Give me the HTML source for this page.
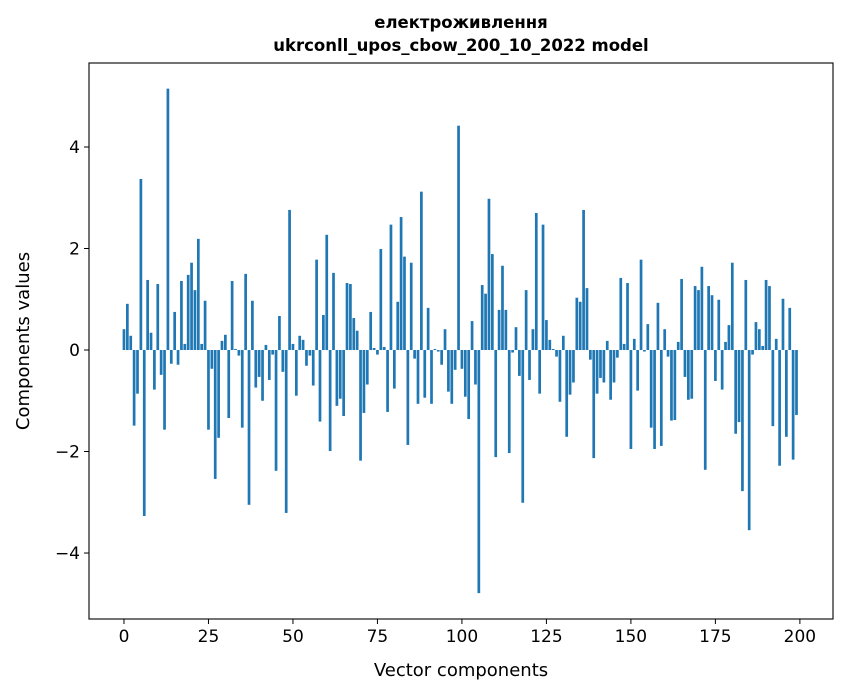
<!DOCTYPE html>
<html><head><meta charset="utf-8"><style>
body{margin:0;background:#fff;}
svg{display:block;font-family:"DejaVu Sans","Liberation Sans",sans-serif;}
</style></head><body>
<svg id="chart" width="847" height="696" viewBox="0 0 847 696">
<text x="461" y="28" text-anchor="middle" font-size="16.5" font-weight="bold">електроживлення</text>
<text x="461" y="51" text-anchor="middle" font-size="16.5" font-weight="bold">ukrconll_upos_cbow_200_10_2022 model</text>
<g id="bars"></g>
<rect x="89" y="63" width="744" height="556" fill="none" stroke="#000" stroke-width="1.1"/>
<g id="xticks"></g>
<g id="yticks"></g>
<text x="461" y="676" text-anchor="middle" font-size="18">Vector components</text>
<text transform="translate(29,341) rotate(-90)" text-anchor="middle" font-size="18">Components values</text>
</svg>
<script>
const values = [0.41,0.91,0.28,-1.49,-0.86,3.37,-3.27,1.38,0.34,-0.78,1.30,-0.49,-1.57,5.15,-0.27,0.75,-0.29,1.36,0.12,1.48,1.72,1.18,2.19,0.12,0.97,
-1.57,-0.37,-2.54,-1.73,0.18,0.30,-1.34,1.36,0.02,-0.11,-1.53,1.50,-3.05,0.97,-0.74,-0.53,-1.0,0.10,-0.59,-0.09,-2.38,0.67,-0.43,-3.21,2.76,
0.12,-0.90,0.28,0.20,-0.31,-0.11,-0.70,1.78,-1.41,0.69,2.27,-1.99,1.52,-1.10,-0.96,-1.30,1.32,1.30,0.63,0.38,-2.18,-1.24,-0.68,0.75,0.04,
-0.09,1.99,0.06,-1.22,2.47,-0.76,0.95,2.62,1.84,-1.87,1.72,-0.17,-1.06,3.12,-0.94,0.83,-1.06,0.02,-0.03,-0.29,0.41,-0.82,-1.06,-0.39,4.42,
-0.37,-0.92,-1.36,0.57,-0.68,-4.79,1.28,1.11,2.98,1.89,-2.11,0.79,1.66,0.79,-2.03,-0.05,0.45,-0.51,-3.01,1.18,-0.59,0.41,2.70,-0.86,2.47,
0.59,0.20,0.02,-0.13,-1.02,0.28,-1.71,-0.88,-0.64,1.03,0.95,2.76,1.22,-0.19,-2.13,-0.86,-0.55,-0.64,0.18,-0.98,-0.64,-0.15,1.42,0.12,1.32,
-1.95,0.22,-0.80,1.78,-0.03,0.51,-1.53,-1.95,0.93,-1.89,0.41,-0.13,-1.39,-1.38,0.16,1.40,-0.53,-0.98,-0.96,1.26,1.18,1.64,-2.36,1.26,
1.08,-0.61,0.99,-0.78,0.16,0.49,1.72,-1.65,-1.42,-2.78,1.38,-3.55,-0.09,0.55,0.41,0.08,1.38,1.26,-1.50,0.22,-2.28,1.01,-1.71,0.83,-2.16,-1.28];
const xTickLabels = [0,25,50,75,100,125,150,175,200];
const yTickLabels = [-4,-2,0,2,4];
const NS="http://www.w3.org/2000/svg";
const X0=89,X1=833,Y0=63,Y1=619, XMIN=-10.35, XMAX=209.8, YMIN=-5.30, YMAX=5.655;
function sx(v){return X0+(v-XMIN)/(XMAX-XMIN)*(X1-X0);}
function sy(v){return Y1-(v-YMIN)/(YMAX-YMIN)*(Y1-Y0);}
const bars=document.getElementById('bars');
const bw=sx(0.8)-sx(0);
values.forEach((v,i)=>{
  const r=document.createElementNS(NS,'rect');
  const y=Math.min(sy(v),sy(0)), h=Math.abs(sy(v)-sy(0));
  r.setAttribute('x',sx(i)-bw/2);r.setAttribute('y',y);
  r.setAttribute('width',bw);r.setAttribute('height',h);
  r.setAttribute('fill','#1f77b4');
  
  
  bars.appendChild(r);
});
const xt=document.getElementById('xticks');
xTickLabels.forEach(t=>{
  const x=sx(t);
  const l=document.createElementNS(NS,'line');
  l.setAttribute('x1',x);l.setAttribute('x2',x);l.setAttribute('y1',Y1);l.setAttribute('y2',Y1+5);
  l.setAttribute('stroke','#000');
  
  
  xt.appendChild(l);
  const tx=document.createElementNS(NS,'text');
  tx.setAttribute('x',x);tx.setAttribute('y',Y1+23);tx.setAttribute('text-anchor','middle');tx.setAttribute('font-size','17');
  tx.textContent=t;
  
  
  xt.appendChild(tx);
});
const yt=document.getElementById('yticks');
yTickLabels.forEach(t=>{
  const y=sy(t);
  const l=document.createElementNS(NS,'line');
  l.setAttribute('x1',X0-5);l.setAttribute('x2',X0);l.setAttribute('y1',y);l.setAttribute('y2',y);
  l.setAttribute('stroke','#000');
  
  
  yt.appendChild(l);
  const tx=document.createElementNS(NS,'text');
  tx.setAttribute('x',X0-9);tx.setAttribute('y',y+6);tx.setAttribute('text-anchor','end');tx.setAttribute('font-size','17');
  tx.textContent=t<0?'\u2212'+Math.abs(t):String(t);
  
  
  yt.appendChild(tx);
});
</script>
</body></html>
